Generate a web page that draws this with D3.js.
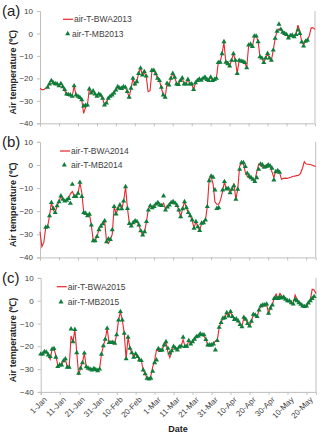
<!DOCTYPE html>
<html><head><meta charset="utf-8">
<script src="https://cdn.jsdelivr.net/npm/d3@7"></script>
<style>body{margin:0;background:#fff}svg{display:block}text{font-family:"Liberation Sans",Arial,sans-serif}</style>
</head><body><svg id="c" width="320" height="435"></svg>
<script>
const tickLabels = ["1-Jan","11-Jan","21-Jan","31-Jan","10-Feb","20-Feb","1-Mar","11-Mar","21-Mar","31-Mar","10-Apr","20-Apr","30-Apr","10-May","20-May"];
const yTicks = [10,0,-10,-20,-30,-40];
const panelLabels = ["(a)","(b)","(c)"];
const lineNames = ["air-T-BWA2013","air-T-BWA2014","air-T-BWA2015"];
const markNames = ["air-T-MB2013","air-T-MB2014","air-T-MB2015"];
const N = null;
const bwa2013 = [-24.4,-25,-25,-24.3,-24,-22,-21,-21.8,-22.4,-22.5,-23,-22.3,-23.5,-25.5,-27,-27.4,-27,-28,-23.3,-27.4,-28,-28.5,-29.5,-35.6,-33,-31.9,-24.7,-26.5,-25.6,-27,-28,-27,-27.5,-28.9,-31.9,-31,-28.9,-28,-27.4,-26.5,-25.2,-23.7,-24.3,-24.5,-23.7,-24,-25.9,-28.4,-24.4,-20,-23,-21.5,-17.8,-15.4,-18.5,-17.5,-19,-25.9,-25.5,-17,-16.4,-18,-20,-21,-24.4,-27.4,-28.4,-22.2,-23,-20,-17.8,-19.5,-22.2,-23,-21,-20,-22.5,-22.5,-20.5,-22.5,-22.5,-25,-22,-21,-20.3,-20.8,-20,-19.5,-20.5,-21,-19.5,-21,-20.5,-20,-13,-12.8,-9,-4,-13,-12.5,-14.5,-12,-9,-12,-17.8,-12,-12.3,-12.5,-13,-15.3,-5.5,-4.8,-5.8,-1.5,-1,-3.5,-10.4,-11,-13,-11,-9,-11,-12,-7.4,-2.2,1,2,1.8,0.5,0,-0.5,-2,-1,-0.5,-1.5,-0.5,3.7,1,-3.8,-5,-3.5,-3,-1,2.5,2.5,1.8];
const mb2013 = [N,N,N,N,-24,-22.5,-21,-22,-22.4,-22.5,-23.3,-22.3,-23.8,-25,-27,-27.2,-27.4,-28,-23.3,-27.4,-28,-28.5,-29.5,-32.3,-32,-31.9,-24.7,-26.5,-25.6,-27,-28,-27,-27.5,-28.9,-31.9,-31,-28.9,-28,-27.4,-26.5,-25.2,-23.7,-24.3,-24.5,-23.7,-24,-25.9,-28.4,-24.4,-20,-22.5,-21.5,-17.8,-15.4,-18.5,-17,-19,N,N,-16.5,-16.4,-18,-20,-21,-24,-27.4,-28.4,-22.2,-23,-20,-17.8,-19.5,-22.5,-22.8,-21,-19.8,-22.5,-22.5,-20.5,-22.5,-22.5,-25,-22,-21,-20.3,-20.8,-20,-19.5,-20.5,-21,-19.5,-21,-20.5,-20,-13,-12.8,-9,-3.7,-12.8,-13.5,-14.5,-12,-9,-12,-17.8,-12,-12.3,-12.5,-13,-15.3,-5.2,-4.8,-5.8,-1.2,-1.2,-3.7,-10.4,-11,-13,-11,-8.9,-11,-12,-7.4,-2.2,1,4.1,1.8,0.5,0,-0.5,-2,-1,-0.8,-1.5,-0.5,1.5,0,-3.8,-5.6,-3.5,-3,N,N,N,N];
const bwa2014 = [-28.9,-35.4,-33.5,-27,-26.8,-22,-16.3,-19.5,-20.6,-17.7,-15.9,-13.4,-14.9,-15.6,-15.3,-14.5,-12.5,-11.5,-13.2,-13.7,-12.3,-7.8,-12,-20.6,-21,-22,-21.3,-26,-32.8,-32.8,-31,-28,-26.5,-25.5,-24.2,-33.2,-34,-32.3,-30,-18,-21.2,-19,-17.3,-19,-15.6,-9.4,-18.8,-25.3,-26.4,-25,-24.2,-24.5,-26,-28.5,-30.3,-28.9,-24.5,-19,-17.7,-18.5,-18,-16.9,-16.3,-17.3,-17.6,-16.5,-19,-18.2,-17.3,-16.3,-15.9,-16.5,-17.5,-19.5,-22.4,-19,-15.9,-18.5,-20.6,-22,-23.8,-27.4,-24.5,-26.7,-28.4,-25.2,-25,-23.8,-18,-5.8,-5.3,-8,-15.9,-17,-17,-15,-11.5,-7.2,-10.4,-10.1,-12,-10.5,-8,-14.9,-10.5,-0.5,1,0.5,-3.2,-4.8,-5.5,-5,-6.5,-6.8,-3,0.4,0,-1,-0.7,0,0.4,-0.4,-3,-5.5,-2.5,-2.9,-3.2,-6.2,-5.8,-5.7,-5.8,-5.5,-5.3,-4.9,-4.8,-4.6,-4.4,-3.6,-1.5,1.4,0.4,0.3,0.2,0,-0.3,-0.7];
const mb2014 = [N,N,N,-27,-26.8,-22,-16.3,-18.8,-20.6,-17.7,-15.9,-13.4,-14.9,-15.6,-15.3,-14.5,-16.6,-8.4,-13.7,-13.7,-12.3,-7.5,-13.7,-20.6,-21,-22,-21.3,-26,-32.8,-32.8,-31,-28,-26.5,-25.5,-24.2,-33.2,-32,-32.3,-28,-18,-21.2,-19,-17.3,-19,-15.6,-9.4,-18.8,-25.3,-26.4,-25,-24.2,-24.5,-26,-28.5,-30.3,-28.9,-24.5,-19.5,-17.7,-18.5,-18,-16.9,-16.3,-17.3,-17.6,-13.4,-19.5,-18.2,-17.3,-16.3,-15.9,-16.5,-17.5,-19.5,-22.4,-19,-15.9,-18.5,-20.6,-22,-23.8,-27.4,-24.5,-26.7,-28.4,-25.2,-25,-23.8,-18,-6.8,-4.8,-5.3,-10.8,-18.8,-18.5,N,-10.8,-7.2,-10.4,-10.1,-12,-10.5,-9,-14.9,-10.5,-1.9,1,1,-0.7,-3.6,-4.8,-5.5,-6.2,-7.2,-5.5,-1.9,0.4,0,-1,-0.7,0,-0.4,-1.4,-6.5,-2.9,-2.5,-3.2,N,N,N,N,N,N,N,N,N,N,N,N,N,N,N,N,N,N,N];
const bwa2015 = [-23.4,-23.4,-22.3,-22.6,-23.8,-25.7,-21.3,-21,-24,-28.5,-28.2,-28.2,-26.4,-25.5,-29.2,-29.2,-15.5,-18,-12.6,-22.8,-32.6,-29.6,-27.2,-23,-29,-29.6,-30,-30.4,-29.8,-30.2,-30.7,-30,-23.5,-19.8,-16.9,-12.1,-18.4,-18.4,-18.3,-18.7,-15,-8.5,-4.8,-8.5,-14.3,-25.5,-16,-20.9,-22.8,-24.8,-23.3,-24.5,-26,-26.3,-30.4,-32.1,-34,-34.4,-33,-29,-26.3,-21.5,-22,-21.9,-21.6,-19.4,-18.5,-22.5,-25,-22,-20.1,-20.9,-21.6,-20.3,-19.9,-17,-20.1,-20,-17.5,-19,-18,-16.9,-15.8,-15.5,-14.6,-15,-15.5,-17,-19.4,-19.4,-19.4,-19,-17.7,-17.5,-11.7,-9.6,-7.7,-7.5,-5.3,-6.7,-4.8,-7,-8.3,-8,-8.9,-10.5,-11.4,-7.3,-8.2,-10,-11.1,-9,-6,-6.3,-7,-4.1,-2.3,-1.9,-1.9,-1.5,-5.5,-3.3,-1.9,1.3,2.9,1,3.2,2,1.5,0.6,0,-0.1,-0.9,-1.5,2.5,0.6,-0.9,-1.6,-2.3,-2.6,-2.3,-1,0.5,5,4.7,3.2];
const mb2015 = [-23.4,-23.4,-22.3,-22.6,-23.8,-24.5,-21.3,-21,-24.8,-28.9,-28.2,-28.2,-26.4,-25.5,-29.2,-29.2,-12.4,-18,-12.6,-22.8,-31.8,-29.6,-27.2,-23,-29,-29.6,-30,-30.4,-29.8,-30.2,-30.7,-30,-23.5,-19.8,-16.9,-12.1,-18.4,-18.4,-18.3,-18.7,-15,-8.5,-4.8,-8.5,-14.3,-25.5,-16,-20.9,-22.8,-24.8,-23.3,-24.5,-26,-26.3,-30.4,-32.1,-34,-34.4,-34,-31,-27.2,-26,-21,-21.9,-21.6,-19.4,-18,-20.9,-23,-22,-20.1,-20.9,-21.6,-20.3,-19.9,-16,-20.1,-20,-17.5,-19,-18,-16.9,-15.8,-15.5,-14.6,-15,-15,-17,-19.4,-19.4,-19.4,-19,-21.6,-17.5,-11.7,-9.6,-7.7,-7.5,-5.3,-6.7,-4.8,-7,-8.3,-8,-8.9,-10.5,-11.4,-7.3,-8.2,-10,-11.1,-9,-6,-6.3,-7,-4.1,-2.3,-1.9,-1.9,-1.5,-5.5,-3.3,-1.9,1,1.2,1,1.5,1.2,1.5,0.6,0,-0.1,-0.9,-1.5,0.5,0,-0.9,-1.6,-2.3,-2.6,-2.3,-1,0,1,1.8,N];

const lines = [bwa2013, bwa2014, bwa2015];
const marks = [mb2013, mb2014, mb2015];

// layout per panel
const panels = [
  {x0:40, x1:315, yTop:11, yBot:123.3, legX:63, legTri:67.7, legTxt1:74, legTxt2:72, legY1:19.3, legY2:33.7},
  {x0:40, x1:315.7, yTop:141.9, yBot:257.4, legX:60, legTri:64.3, legTxt1:71, legTxt2:71, legY1:151, legY2:165},
  {x0:40.7, x1:316, yTop:277.9, yBot:391.9, legX:56.7, legTri:61, legTxt1:67.7, legTxt2:67.7, legY1:286.7, legY2:302}
];
const RED = "#e8262b", GREEN = "#0f7d3a", AX = "#bfbfbf", TXT = "#404040";
const svg = d3.select("#c");

panels.forEach((p, i) => {
  const x = d3.scaleLinear().domain([0, 145]).range([p.x0, p.x1]);
  const y = d3.scaleLinear().domain([-40, 10]).range([p.yBot, p.yTop]);
  const g = svg.append("g");

  // y axis
  const ya = g.append("g").attr("transform", `translate(${p.x0},0)`)
    .call(d3.axisLeft(y).tickValues(yTicks).tickSize(3).tickPadding(4).tickFormat(d3.format("d")));
  ya.select(".domain").attr("stroke", AX);
  ya.selectAll(".tick line").attr("stroke", AX);
  ya.selectAll(".tick text").attr("fill", TXT).style("font-size", "8px");

  // x axis
  const xa = g.append("g").attr("transform", `translate(0,${p.yBot})`)
    .call(d3.axisBottom(x).tickValues(d3.range(0, 141, 10)).tickSize(3).tickFormat((d, k) => i === 2 ? tickLabels[k] : ""));
  xa.select(".domain").attr("stroke", AX);
  xa.selectAll(".tick line").attr("stroke", AX);
  if (i === 2) {
    xa.selectAll(".tick text").attr("fill", TXT).style("font-size", "8px")
      .attr("text-anchor", "end").attr("dy", 0).attr("dx", 0)
      .attr("transform", "translate(2,4) rotate(-45)");
  }
  // right border
  g.append("line").attr("x1", p.x1).attr("x2", p.x1).attr("y1", p.yTop).attr("y2", p.yBot).attr("stroke", AX);

  // red line
  const line = d3.line().x((d, k) => x(k)).y(d => y(d)).defined(d => d !== null);
  g.append("path").datum(lines[i]).attr("d", line).attr("fill", "none").attr("stroke", RED).attr("stroke-width", 1.1);

  // green triangles
  const tri = d3.symbol().type(d3.symbolTriangle).size(11);
  g.selectAll("path.m").data(marks[i].map((v, k) => [k, v]).filter(d => d[1] !== null)).join("path")
    .attr("class", "m").attr("d", tri).attr("fill", GREEN)
    .attr("transform", d => `translate(${x(d[0])},${y(d[1])})`);

  // panel label
  g.append("text").attr("x", 2).attr("y", p.yTop + 5).text(panelLabels[i])
    .style("font-size", "15px").attr("fill", "#222");

  // y label
  g.append("text").attr("transform", `translate(16,${(p.yTop + p.yBot) / 2 + 5}) rotate(-90)`)
    .attr("text-anchor", "middle").style("font-size", "9px").style("font-weight", "bold").attr("fill", "#222")
    .text("Air temperature (℃)");

  // legend
  g.append("line").attr("x1", p.legX).attr("x2", p.legX + 10).attr("y1", p.legY1).attr("y2", p.legY1)
    .attr("stroke", RED).attr("stroke-width", 1.2);
  g.append("text").attr("x", p.legTxt1).attr("y", p.legY1 + 3).text(lineNames[i])
    .style("font-size", "8.5px").attr("fill", TXT);
  g.append("path").attr("d", tri).attr("fill", GREEN).attr("transform", `translate(${p.legTri},${p.legY2})`);
  g.append("text").attr("x", p.legTxt2).attr("y", p.legY2 + 3).text(markNames[i])
    .style("font-size", "8.5px").attr("fill", TXT);
});

svg.append("text").attr("x", 178).attr("y", 432).attr("text-anchor", "middle")
  .style("font-size", "9px").style("font-weight", "bold").attr("fill", "#222").text("Date");
</script></body></html>
